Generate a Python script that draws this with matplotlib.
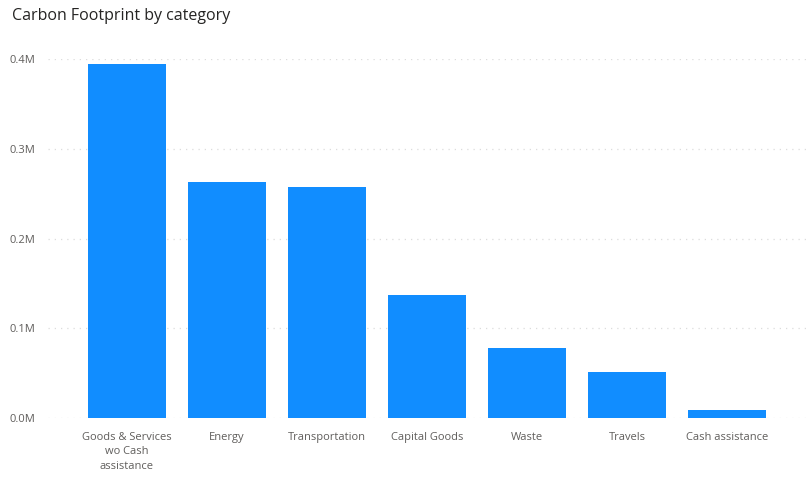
import matplotlib
matplotlib.use("Agg")
import matplotlib.pyplot as plt
from matplotlib.ticker import FuncFormatter

plt.rcParams["font.family"] = ["Open Sans", "DejaVu Sans"]

categories = [
    "Goods & Services\nwo Cash\nassistance",
    "Energy",
    "Transportation",
    "Capital Goods",
    "Waste",
    "Travels",
    "Cash assistance",
]
footprint = [395000, 263000, 257500, 136500, 77500, 51500, 9000]
y_ticks = [0, 100000, 200000, 300000, 400000]

BAR_COLOR = "#118DFF"
TEXT_COLOR = "#605E5C"

fig = plt.figure(figsize=(8.06, 4.98), dpi=100)
ax = fig.add_axes([48 / 806, 80.3 / 498, 758 / 806, 358.4 / 498])

x = list(range(len(categories)))
ax.bar(x, footprint, width=0.78, color=BAR_COLOR, zorder=3)

ax.set_xlim(-0.79, len(categories) - 1 + 0.79)
ax.set_ylim(0, 400000)
ax.set_yticks(y_ticks)
ax.yaxis.set_major_formatter(FuncFormatter(lambda v, _: f"{v / 1e6:.1f}M"))
ax.set_xticks(x)
ax.set_xticklabels(categories, linespacing=1.45)

ax.grid(axis="y", linestyle=(0, (1, 4)), color="#DCDCDC", linewidth=0.9, zorder=0)
ax.set_axisbelow(True)
for s in ax.spines.values():
    s.set_visible(False)
ax.tick_params(axis="both", length=0, labelsize=8, colors=TEXT_COLOR)
ax.tick_params(axis="y", pad=9)
ax.tick_params(axis="x", pad=10)
for lbl in ax.get_xticklabels():
    lbl.set_verticalalignment("top")

fig.text(12 / 806, 1 - 8 / 498, "Carbon Footprint by category",
         fontsize=11.5, color="#252423", ha="left", va="top")

fig.savefig("out.png", dpi=100)
